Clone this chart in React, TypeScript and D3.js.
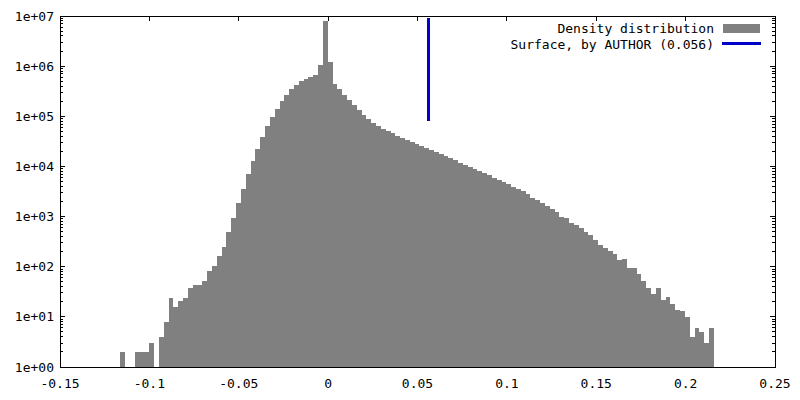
import * as d3 from 'd3';

// histogram bins (left edge of first bin, bin width) and counts per bin
const binStart = -0.1163;
const binWidth = 0.0027;
const binCounts = [
  2, 0, 0, 2, 2, 2, 3, 0, 4, 8,
  24, 16, 21, 24, 38, 43, 43, 52, 82, 103,
  164, 247, 493, 937, 1866, 3548, 7165, 12830, 22280, 39180,
  64100, 96900, 140000, 202000, 266000, 350000, 421000, 506000, 555000, 608000,
  666000, 1055000, 7960000, 1210000, 441000, 350000, 266000, 211000, 168000, 133500,
  106000, 88400, 73500, 64100, 55800, 50900, 46400, 40500, 36900, 33700,
  30700, 28000, 25600, 23300, 21300, 19400, 17700, 16200, 14700, 13400,
  11700, 10700, 9750, 8890, 8110, 7400, 6750, 5880, 5370, 4890,
  4460, 3890, 3550, 3240, 2820, 2350, 2140, 1870, 1630, 1420,
  1230, 981, 937, 745, 679, 592, 493, 429, 341, 271,
  236, 206, 179, 136, 143, 94, 94, 72, 52, 38,
  29, 38, 22, 25, 18, 14, 13, 10, 4, 6,
  5, 3, 6,
];

const xTicks = [-0.15, -0.1, -0.05, 0, 0.05, 0.1, 0.15, 0.2, 0.25];
const xTickLabels = ['-0.15', '-0.1', '-0.05', '0', '0.05', '0.1', '0.15', '0.2', '0.25'];
const yTicks = [1, 10, 100, 1e3, 1e4, 1e5, 1e6, 1e7];
const yTickLabels = ['1e+00', '1e+01', '1e+02', '1e+03', '1e+04', '1e+05', '1e+06', '1e+07'];

// vertical marker
const surfaceX = 0.056;
const surfaceRange = [8e4, 9e6];

const legendLabels = ['Density distribution', 'Surface, by AUTHOR (0.056)'];

const W = 800;
const H = 400;
const left = 60, right = 775, top = 16, bottom = 367;
const font = '"DejaVu Sans Mono", monospace';

export default function App() {
  const x = d3.scaleLinear().domain([-0.15, 0.25]).range([left, right]);
  const y = d3.scaleLog().domain([1, 1e7]).range([bottom, top]);

  const minor = y.ticks().filter(t => !yTicks.includes(t));

  return (
    <svg
      width={W}
      height={H}
      viewBox={`0 0 ${W} ${H}`}
      style={{ position: 'absolute', left: 0, top: 0, background: '#fff' }}
      shapeRendering="crispEdges"
    >
      <rect x={0} y={0} width={W} height={H} fill="#fff" />

      {/* ticks, mirrored on all sides */}
      <g stroke="#000" strokeWidth={1}>
        {xTicks.map(t => (
          <g key={'xt' + t}>
            <line x1={x(t)} x2={x(t)} y1={bottom} y2={bottom - 5} />
            <line x1={x(t)} x2={x(t)} y1={top} y2={top + 5} />
          </g>
        ))}
        {yTicks.map(t => (
          <g key={'yt' + t}>
            <line x1={left} x2={left + 5} y1={y(t)} y2={y(t)} />
            <line x1={right} x2={right - 5} y1={y(t)} y2={y(t)} />
          </g>
        ))}
        {minor.map(t => (
          <g key={'ym' + t}>
            <line x1={left} x2={left + 3} y1={y(t)} y2={y(t)} />
            <line x1={right} x2={right - 3} y1={y(t)} y2={y(t)} />
          </g>
        ))}
      </g>

      {/* histogram */}
      <g fill="#808080">
        {binCounts.map((c, i) => {
          if (c <= 0) return null;
          const x0 = x(binStart + i * binWidth);
          const x1 = x(binStart + (i + 1) * binWidth);
          return <rect key={i} x={x0} y={y(c)} width={x1 - x0} height={bottom - y(c)} />;
        })}
      </g>

      {/* surface marker */}
      <line
        x1={x(surfaceX)}
        x2={x(surfaceX)}
        y1={y(surfaceRange[0])}
        y2={y(surfaceRange[1])}
        stroke="#0000c8"
        strokeWidth={3}
      />

      <rect x={left} y={top} width={right - left} height={bottom - top} fill="none" stroke="#000" strokeWidth={1} />

      {/* tick labels */}
      <g fontFamily={font} fontSize={13} fill="#000">
        {yTicks.map((t, i) => (
          <text key={'yl' + t} x={left - 6} y={y(t)} textAnchor="end" dominantBaseline="central">
            {yTickLabels[i]}
          </text>
        ))}
        {xTicks.map((t, i) => (
          <text key={'xl' + t} x={x(t)} y={bottom + 16} textAnchor="middle" dominantBaseline="central">
            {xTickLabels[i]}
          </text>
        ))}
      </g>

      {/* legend */}
      <g fontFamily={font} fontSize={13} fill="#000">
        <text x={714} y={28} textAnchor="end" dominantBaseline="central">{legendLabels[0]}</text>
        <rect x={723} y={24} width={37} height={9} fill="#808080" />
        <text x={714} y={44} textAnchor="end" dominantBaseline="central">{legendLabels[1]}</text>
        <line x1={722} x2={761} y1={43.5} y2={43.5} stroke="#0000c8" strokeWidth={3} />
      </g>
    </svg>
  );
}
